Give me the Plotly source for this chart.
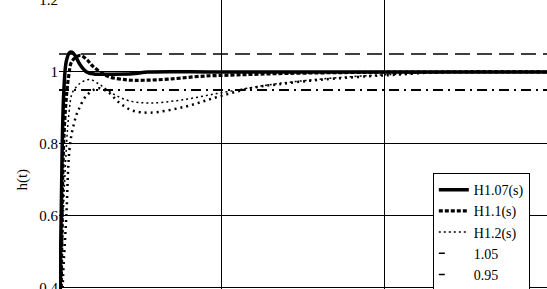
import plotly.graph_objects as go

# ---- data (t in grid units, h(t) values) ----
t_a = [0, 0.01, 0.02, 0.03, 0.045, 0.065, 0.08, 0.1, 0.13, 0.17, 0.22, 0.3, 0.45, 0.55, 1.0, 2.0, 3.0]
h_a = [0, 0.5, 0.8, 0.95, 1.03, 1.054, 1.055, 1.045, 1.02, 1.0, 0.994, 0.994, 0.995, 1.0, 1.0, 1.0, 1.0]

t_b = [0, 0.015, 0.025, 0.04, 0.06, 0.08, 0.13, 0.17, 0.21, 0.3, 0.42, 0.52, 0.67, 0.87, 1.1, 1.4, 1.9, 2.5, 3.0]
h_b = [0, 0.45, 0.75, 0.9, 0.99, 1.03, 1.046, 1.035, 1.015, 0.988, 0.978, 0.977, 0.98, 0.988, 0.992, 0.996, 0.999, 1.0, 1.0]

t_c = [0, 0.015, 0.035, 0.06, 0.08, 0.1, 0.14, 0.19, 0.25, 0.33, 0.43, 0.56, 0.75, 0.97, 1.2, 1.35, 1.6, 1.9, 2.1, 2.35, 3.0]
h_c = [0, 0.4, 0.7, 0.88, 0.94, 0.955, 0.972, 0.979, 0.965, 0.94, 0.92, 0.914, 0.922, 0.94, 0.958, 0.968, 0.98, 0.99, 0.994, 1.0, 1.0]

t_d = [0, 0.02, 0.025, 0.045, 0.068, 0.1, 0.12, 0.17, 0.24, 0.3, 0.37, 0.45, 0.56, 0.77, 0.97, 1.18, 1.35, 1.6, 1.9, 2.1, 2.35, 3.0]
h_d = [0, 0.35, 0.43, 0.6, 0.8, 0.87, 0.895, 0.935, 0.955, 0.945, 0.915, 0.893, 0.887, 0.903, 0.93, 0.955, 0.966, 0.978, 0.988, 0.993, 1.0, 1.0]

t_band = [0, 3.0]
band_hi = [1.05, 1.05]
band_lo = [0.95, 0.95]

names = ["H1.07(s)", "H1.1(s)", "H1.2(s)", "H1.3(s)", "1.05", "0.95"]
y_ticks = [0.4, 0.6, 0.8, 1.0, 1.2]
y_ticktext = ["0.4", "0.6", "0.8", "1", "1.2"]

fig = go.Figure()
fig.add_trace(go.Scatter(x=t_band, y=band_hi, mode="lines", name=names[4],
                         line=dict(color="black", width=1.3, dash="15px,7px"), showlegend=False))
fig.add_trace(go.Scatter(x=t_band, y=band_lo, mode="lines", name=names[5],
                         line=dict(color="black", width=2, dash="10px,5px,2px,5px"), showlegend=False))
fig.add_trace(go.Scatter(x=t_d, y=h_d, mode="lines", name=names[3], line_shape="spline",
                         line=dict(color="black", width=2.5, dash="2px,4px"), showlegend=False))
fig.add_trace(go.Scatter(x=t_c, y=h_c, mode="lines", name=names[2], line_shape="spline", legendrank=3,
                         line=dict(color="black", width=1.5, dash="2px,3px")))
fig.add_trace(go.Scatter(x=t_b, y=h_b, mode="lines", name=names[1], line_shape="spline", legendrank=2,
                         line=dict(color="black", width=3.2, dash="4px,2px")))
fig.add_trace(go.Scatter(x=t_a, y=h_a, mode="lines", name=names[0], line_shape="spline", legendrank=1,
                         line=dict(color="black", width=3.5)))
# legend-only entries for the band lines
fig.add_trace(go.Scatter(x=[None], y=[None], mode="lines", name=names[4], legendrank=4,
                         line=dict(color="black", width=1.5, dash="6px,30px")))
fig.add_trace(go.Scatter(x=[None], y=[None], mode="lines", name=names[5], legendrank=5,
                         line=dict(color="black", width=1.5, dash="6px,30px")))

fig.update_layout(
    width=547, height=289,
    margin=dict(l=59, r=0, t=0, b=0, autoexpand=False),
    paper_bgcolor="white", plot_bgcolor="white",
    font=dict(family="Liberation Serif", color="black", size=15),
    legend=dict(x=0.766, y=0.401, xanchor="left", yanchor="top",
                bgcolor="white", bordercolor="black", borderwidth=1,
                font=dict(size=14, family="Liberation Serif")),
    showlegend=True,
)
fig.update_xaxes(range=[0, 3.0], dtick=1, showgrid=True, gridcolor="black", gridwidth=1,
                 showticklabels=False, zeroline=False, showline=True, linecolor="black", linewidth=2,
                 ticks="")
fig.update_yaxes(range=[0.397, 1.2], tickvals=y_ticks, ticktext=y_ticktext, showgrid=True,
                 gridcolor="black", gridwidth=1, zeroline=False, showline=False, ticks="",
                 ticklabeloverflow="allow",
                 tickfont=dict(size=15, family="Liberation Serif"))
fig.add_annotation(text="h(t)", x=-0.096, xref="paper", y=0.7, yref="y", showarrow=False,
                   textangle=-90, font=dict(size=15, family="Liberation Serif"))

fig.write_html("out.html", config={"displayModeBar": False},
               post_script="document.body.style.margin='0';document.body.style.overflow='hidden';")
